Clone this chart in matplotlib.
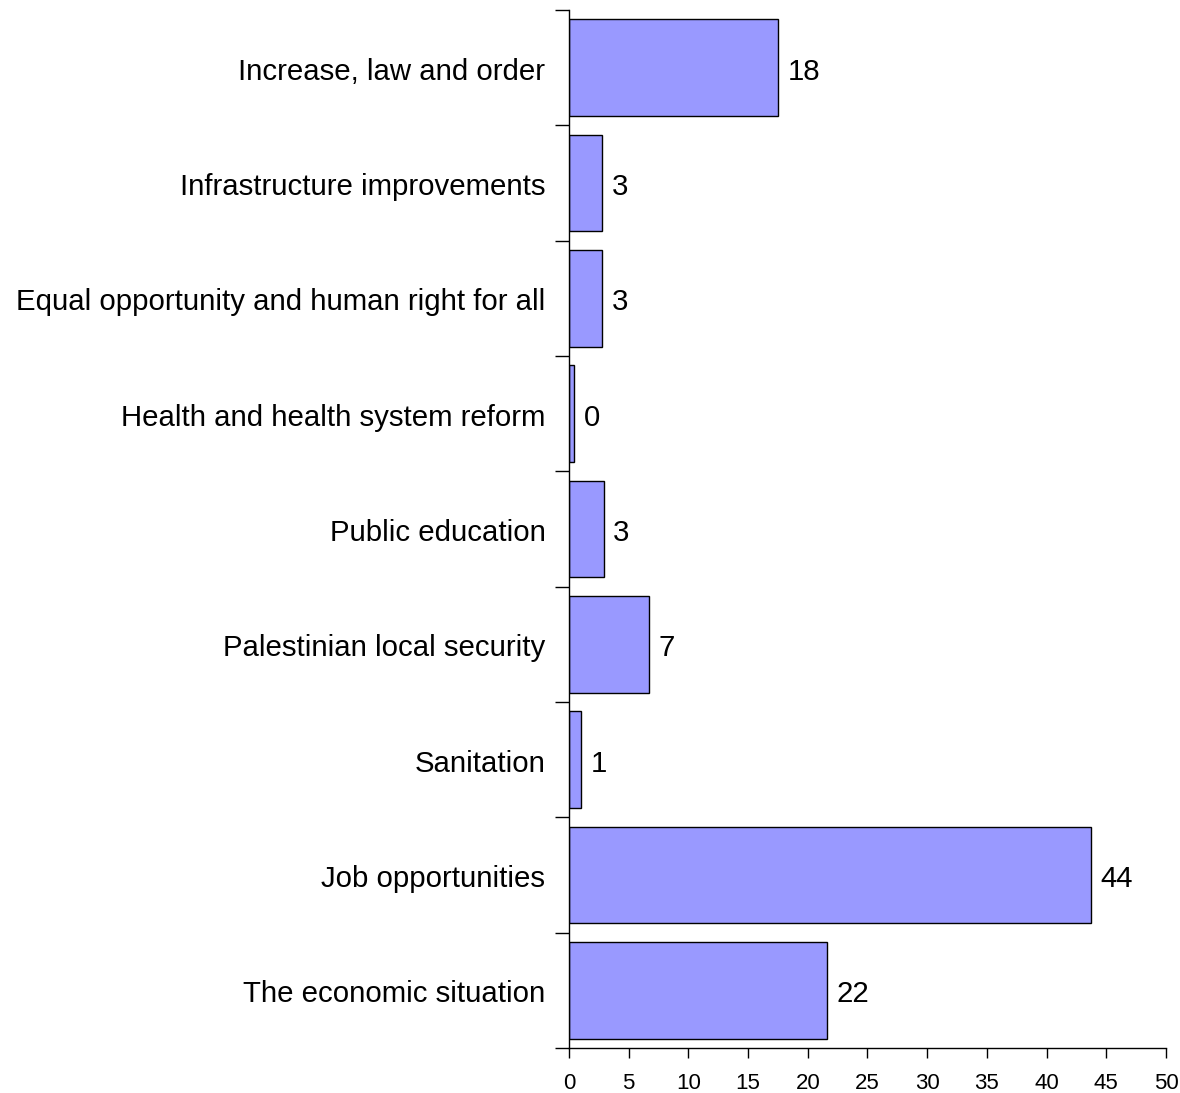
import matplotlib.pyplot as plt
import numpy as np

plt.rcParams['font.family'] = ['Liberation Sans', 'DejaVu Sans']

# top to bottom as in the chart
categories = [
    "Increase, law and order",
    "Infrastructure improvements",
    "Equal opportunity and human right for all",
    "Health and health system reform",
    "Public education",
    "Palestinian local security",
    "Sanitation",
    "Job opportunities",
    "The economic situation",
]
values = [17.5, 2.8, 2.8, 0.45, 2.9, 6.7, 1.0, 43.7, 21.6]
value_labels = ["18", "3", "3", "0", "3", "7", "1", "44", "22"]
x_ticks = [0, 5, 10, 15, 20, 25, 30, 35, 40, 45, 50]

fig = plt.figure(figsize=(11.8, 10.93), dpi=100)
ax = fig.add_axes([0.4822, 0.0412, 0.5059, 0.9497])

n = len(categories)
ypos = np.arange(n)
ax.barh(ypos, values, height=0.84, color='#9999FF', edgecolor='black', linewidth=1.0)

fs = 21.2
drop = -0.716 * fs / 2 - 1
for y, v, lab in zip(ypos, values, value_labels):
    ax.annotate(lab, (v, y), xytext=(7, drop), textcoords='offset points',
                va='baseline', ha='left', fontsize=fs)
    ax.annotate(categories[y], (0, y), xytext=(-17, drop), textcoords='offset points',
                va='baseline', ha='right', fontsize=fs)

ax.set_xlim(0, 50)
ax.set_ylim(n - 0.5, -0.5)
ax.set_xticks(x_ticks)
ax.set_xticklabels([str(t) for t in x_ticks], fontsize=16)
ax.set_yticks(np.arange(n + 1) - 0.5)
ax.set_yticklabels([])
ax.tick_params(axis='y', direction='out', length=10, width=1)
ax.tick_params(axis='x', direction='out', length=7, width=1, pad=11)

ax.spines['top'].set_visible(False)
ax.spines['right'].set_visible(False)
ax.spines['left'].set_linewidth(1)
ax.spines['bottom'].set_linewidth(1)
ax.spines['bottom'].set_bounds(0, 50)

fig.savefig('out.png', dpi=100)
